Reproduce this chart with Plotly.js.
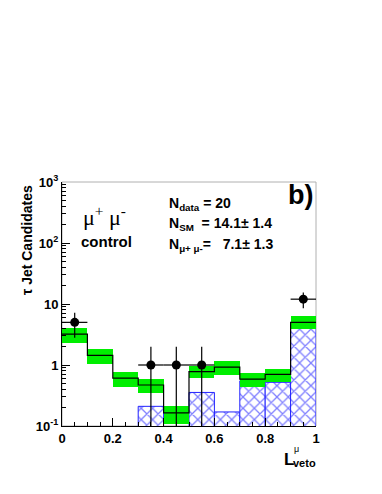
<!DOCTYPE html>
<html>
<head>
<meta charset="utf-8">
<script src="https://cdn.plot.ly/plotly-3.0.1.min.js"></script>
<style>
  html, body { margin: 0; padding: 0; background: #ffffff; }
  #chart { width: 382px; height: 494px; }
</style>
</head>
<body>
<div id="chart"></div>
<script>
// tau jet candidates vs L_veto (mu+ mu- control region)
const binEdges = [0, 0.1, 0.2, 0.3, 0.4, 0.5, 0.6, 0.7, 0.8, 0.9, 1.0];
const binCenters = [0.05, 0.15, 0.25, 0.35, 0.45, 0.55, 0.65, 0.75, 0.85, 0.95];

// SM expectation and its error band
const smTotal = [3.2, 1.44, 0.61, 0.47, 0.164, 0.78, 0.92, 0.585, 0.70, 5.0];
const smUp    = [4.05, 1.84, 0.77, 0.585, 0.215, 0.96, 1.16, 0.75, 0.86, 6.4];
const smDown  = [2.3, 1.04, 0.44, 0.35, 0.106, 0.61, 0.69, 0.44, 0.53, 3.9];

// mu+ mu- contribution (hatched)
const muMu = [0, 0, 0, 0.21, 0, 0.355, 0.17, 0.55, 0.52, 4.7];

// data points
const dataX = [0.05, 0.35, 0.45, 0.55, 0.95];
const dataY = [5, 1, 1, 1, 12];
const dataErrUp = [2.2, 1, 1, 1, 3.5];
const dataErrDown = [2.2, 0.99, 0.99, 0.99, 3.5];

const yTickVals = [0.1, 1, 10, 100, 1000];
const yTickText = ['10<sup>-1</sup>', '1', '10', '10<sup>2</sup>', '10<sup>3</sup>'];
const xTickVals = [0, 0.2, 0.4, 0.6, 0.8, 1];
const xTickText = ['0', '0.2', '0.4', '0.6', '0.8', '1'];

// minor log ticks 2..9 per decade
const yMinor = [];
for (let d = -1; d < 3; d++) {
  for (let m = 2; m <= 9; m++) yMinor.push(m * Math.pow(10, d));
}

// plot area in pixels, for placing the text boxes
const W = 382, H = 494;
const M = { l: 62, r: 66, t: 182, b: 68 };
const px = x => (x - M.l) / (W - M.l - M.r);
const py = y => (H - M.b - y) / (H - M.t - M.b);

const FONT = 'Liberation Sans, Arial, sans-serif';

const hatchTrace = {
  type: 'bar',
  x: binCenters,
  y: muMu.map(v => (v > 0 ? v : null)),
  width: 0.1,
  marker: {
    color: '#ffffff',
    line: { color: '#2222ff', width: 1 },
    pattern: { shape: 'x', fgcolor: '#0000ff', bgcolor: '#ffffff', size: 8, solidity: 0.3, fillmode: 'overlay' }
  },
  hoverinfo: 'skip',
  showlegend: false
};

const bandTrace = {
  type: 'bar',
  x: binCenters,
  base: smDown,
  y: smUp.map((u, i) => u - smDown[i]),
  width: 0.1,
  marker: { color: '#00ee00', line: { width: 0 } },
  hoverinfo: 'skip',
  showlegend: false
};

const smTrace = {
  type: 'scatter',
  mode: 'lines',
  x: binEdges,
  y: smTotal.concat([smTotal[smTotal.length - 1]]),
  line: { shape: 'hv', color: '#000000', width: 1.2 },
  hoverinfo: 'skip',
  showlegend: false
};

const dataTrace = {
  type: 'scatter',
  mode: 'markers',
  x: dataX,
  y: dataY,
  marker: { color: '#000000', size: 9 },
  error_x: { type: 'constant', value: 0.05, width: 0, color: '#000000', thickness: 1.2 },
  error_y: { type: 'data', array: dataErrUp, arrayminus: dataErrDown, symmetric: false, width: 0, color: '#000000', thickness: 1.2 },
  showlegend: false
};

const ann = (x, y, text, size, opts) => Object.assign({
  xref: 'paper', yref: 'paper', x: px(x), y: py(y), text: text,
  showarrow: false, xanchor: 'center', yanchor: 'middle',
  font: { family: FONT, size: size, color: '#000000' }
}, opts || {});

const layout = {
  width: W,
  height: H,
  margin: M,
  paper_bgcolor: '#ffffff',
  plot_bgcolor: '#ffffff',
  barmode: 'overlay',
  bargap: 0,
  showlegend: false,
  xaxis: {
    range: [0, 1],
    tickvals: xTickVals,
    ticktext: xTickText,
    ticks: 'inside',
    ticklen: 8,
    tickcolor: '#000000',
    minor: { ticks: 'inside', ticklen: 4, dtick: 0.05, tickcolor: '#000000' },
    showline: true,
    linecolor: '#000000',
    linewidth: 1,
    showgrid: false,
    zeroline: false,
    tickfont: { family: FONT, size: 13, weight: 'bold', color: '#000000' }
  },
  yaxis: {
    type: 'log',
    range: [-1, 3],
    tickvals: yTickVals,
    ticktext: yTickText,
    ticks: 'inside',
    ticklen: 8,
    tickcolor: '#000000',
    minor: { ticks: 'inside', ticklen: 4, tickvals: yMinor, tickcolor: '#000000' },
    showline: true,
    linecolor: '#000000',
    linewidth: 1,
    showgrid: false,
    zeroline: false,
    tickfont: { family: FONT, size: 13, weight: 'bold', color: '#000000' }
  },
  shapes: [
    {
      type: 'rect', xref: 'paper', yref: 'paper', x0: 0, x1: 1, y0: 0, y1: 1,
      line: { color: '#b0b0b0', width: 1 }, layer: 'below'
    }
  ],
  annotations: [
    ann(104, 216, 'μ<sup>+</sup> μ<sup>-</sup>', 22, { font: { family: 'Liberation Serif, serif', size: 22, color: '#000000' } }),
    ann(106, 241, '<b>control</b>', 15),
    ann(167, 204, '<b>N<sub>data</sub> = 20</b>', 14, { xanchor: 'left' }),
    ann(167, 224, '<b>N<sub>SM</sub>  = 14.1± 1.4</b>', 14, { xanchor: 'left' }),
    ann(167, 245, '<b>N<sub>μ+ μ-</sub>=   7.1± 1.3</b>', 14, { xanchor: 'left' }),
    ann(300, 195, '<b>b)</b>', 27),
    ann(27, 240, '<b>τ Jet Candidates</b>', 14, { textangle: -90 }),
    ann(289, 459, '<b>L</b>', 17),
    ann(296, 449, 'μ', 9),
    ann(304, 463, '<b>veto</b>', 11)
  ]
};

Plotly.newPlot('chart', [hatchTrace, bandTrace, smTrace, dataTrace], layout, { displayModeBar: false, staticPlot: true });
</script>
</body>
</html>
